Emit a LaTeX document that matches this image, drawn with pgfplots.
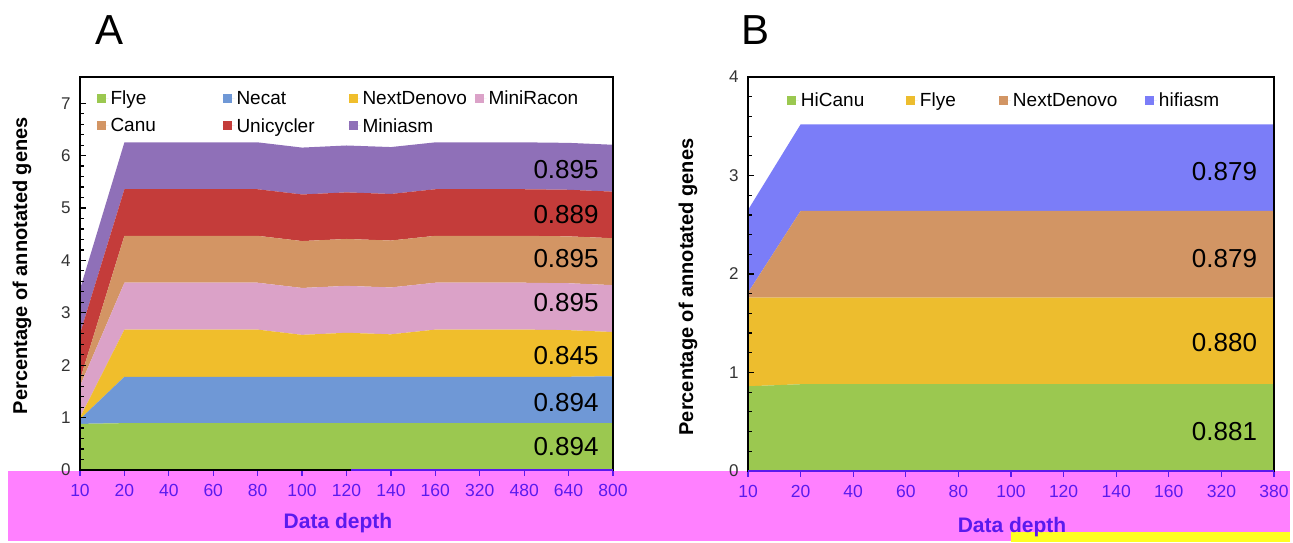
\documentclass[border=0pt]{standalone}
\usepackage{fontspec}
\setmainfont{Liberation Sans}
\usepackage{pgfplots}
\pgfplotsset{compat=1.18}
\usepackage{pgfplotstable}

\definecolor{cGreen}{HTML}{9BC850}
\definecolor{cNecat}{HTML}{6F98D6}
\definecolor{cYellow}{HTML}{F0BE2C}
\definecolor{cPink}{HTML}{DBA2C8}
\definecolor{cCanu}{HTML}{D39564}
\definecolor{cRed}{HTML}{C43C3A}
\definecolor{cPurple}{HTML}{8F70B8}
\definecolor{bYellow}{HTML}{EDBD2E}
\definecolor{bOrange}{HTML}{D29564}
\definecolor{bBlue}{HTML}{7B7DF8}
\definecolor{bandpink}{HTML}{FF80FF}
\definecolor{bandyellow}{HTML}{FFFF22}
\definecolor{tickblue}{HTML}{5A1AEE}

\pgfplotstableread{
x Flye Necat NextDenovo MiniRacon Canu Unicycler Miniasm
0  0.88  0.09  0.03 0.60  0.12  0.88  0.85
1  0.894 0.885 0.90 0.895 0.895 0.889 0.895
2  0.894 0.885 0.90 0.895 0.895 0.889 0.895
3  0.894 0.885 0.90 0.895 0.895 0.889 0.895
4  0.894 0.885 0.90 0.895 0.895 0.889 0.895
5  0.894 0.885 0.80 0.895 0.895 0.889 0.895
6  0.894 0.885 0.84 0.895 0.895 0.889 0.895
7  0.894 0.885 0.81 0.895 0.895 0.889 0.895
8  0.894 0.885 0.90 0.895 0.895 0.889 0.895
9  0.894 0.885 0.90 0.895 0.895 0.889 0.895
10 0.894 0.885 0.90 0.895 0.895 0.889 0.895
11 0.894 0.885 0.89 0.895 0.895 0.889 0.895
12 0.894 0.894 0.845 0.895 0.895 0.889 0.895
}\tabA

\pgfplotstableread{
x HiCanu Flye NextDenovo hifiasm
0  0.86  0.90  0.05  0.84
1  0.881 0.880 0.879 0.879
2  0.881 0.880 0.879 0.879
3  0.881 0.880 0.879 0.879
4  0.881 0.880 0.879 0.879
5  0.881 0.880 0.879 0.879
6  0.881 0.880 0.879 0.879
7  0.881 0.880 0.879 0.879
8  0.881 0.880 0.879 0.879
9  0.881 0.880 0.879 0.879
10 0.881 0.880 0.879 0.879
}\tabB

\pgfplotsset{
  panel/.style={
    scale only axis,
    anchor=south west,
    axis on top=true,
    axis line style={line width=1.3pt, black},
    tick align=inside,
    xtick pos=bottom, ytick pos=left,
    major tick length=6pt, minor tick length=4pt,
    ytick style={line width=1.2pt, black},
    xtick style={line width=1.2pt, tickblue, yshift=-6pt},
    minor y tick num=4,
    /pgf/number format/assume math mode=true,
    yticklabel style={font=\fontsize{17}{20}\selectfont, text=black!80, xshift=-6pt},
    xticklabel style={font=\fontsize{17.5}{20}\selectfont, text=tickblue, yshift=-11pt},
    legend cell align=left,
    legend image code/.code={\fill[##1] (0pt,-4.5pt) rectangle (9pt,4.5pt); \path (0pt,0pt) -- (12pt,0pt);},
    stack plots=y,
    xtick={0,...,12},
    xmin=0, ymin=0,
  },
}
\tikzset{lab/.style={font=\fontsize{26}{28}\selectfont, anchor=east, inner sep=0pt}}

\begin{document}
\begin{tikzpicture}
\useasboundingbox (0pt,0pt) rectangle (1293pt,543pt);
\fill[bandpink] (8pt,2pt) rectangle (1290pt,72pt);
\fill[bandyellow] (1011pt,1pt) rectangle (1290pt,11pt);

\node[font=\fontsize{42}{44}\selectfont] at (110pt,513pt) {A};
\node[font=\fontsize{42}{44}\selectfont] at (755pt,513pt) {B};

% Panel A
\begin{axis}[panel,
  at={(80pt,73pt)}, width=533pt, height=393pt,
  xmax=12, ymax=7.5, ytick={0,...,7},
  xticklabels={10,20,40,60,80,100,120,140,160,320,480,640,800},
  xlabel={Data depth}, ylabel={Percentage of annotated genes},
  every axis x label/.style={at={(axis description cs:0.484,-0.135)}, anchor=center,
    font=\fontsize{21}{24}\selectfont\bfseries, text=tickblue},
  every axis y label/.style={at={(axis description cs:-0.109,0.52)}, rotate=90, anchor=center,
    font=\fontsize{20}{24}\selectfont\bfseries},
  legend columns=4,
  legend style={draw=none, fill=none, at={(0.025,0.975)}, anchor=north west,
    font=\fontsize{19}{22}\selectfont, row sep=8pt,
    /tikz/every even column/.append style={column sep=0pt}},
]
\addplot[fill=cGreen, draw=none] table[x=x,y=Flye]{\tabA} \closedcycle;
\addlegendentry{\makebox[110pt][l]{Flye}}
\addplot[fill=cNecat, draw=none] table[x=x,y=Necat]{\tabA} \closedcycle;
\addlegendentry{\makebox[110pt][l]{Necat}}
\addplot[fill=cYellow, draw=none] table[x=x,y=NextDenovo]{\tabA} \closedcycle;
\addlegendentry{\makebox[110pt][l]{NextDenovo}}
\addplot[fill=cPink, draw=none] table[x=x,y=MiniRacon]{\tabA} \closedcycle;
\addlegendentry{\makebox[90pt][l]{MiniRacon}}
\addplot[fill=cCanu, draw=none] table[x=x,y=Canu]{\tabA} \closedcycle;
\addlegendentry{\makebox[110pt][l]{Canu}}
\addplot[fill=cRed, draw=none] table[x=x,y=Unicycler]{\tabA} \closedcycle;
\addlegendentry{\makebox[110pt][l]{Unicycler}}
\addplot[fill=cPurple, draw=none] table[x=x,y=Miniasm]{\tabA} \closedcycle;
\addlegendentry{\makebox[110pt][l]{Miniasm}}
\coordinate (LA1) at (axis cs:11.68,5.73);
\coordinate (LA2) at (axis cs:11.68,4.88);
\coordinate (LA3) at (axis cs:11.68,4.04);
\coordinate (LA4) at (axis cs:11.68,3.20);
\coordinate (LA5) at (axis cs:11.68,2.19);
\coordinate (LA6) at (axis cs:11.68,1.28);
\coordinate (LA7) at (axis cs:11.68,0.44);
\coordinate (A1) at (axis cs:6.1,0);
\coordinate (A2) at (axis cs:12,0);
\end{axis}
\draw[tickblue, line width=1.3pt] (A1) -- (A2);
\node[lab] at (LA1) {0.895};
\node[lab] at (LA2) {0.889};
\node[lab] at (LA3) {0.895};
\node[lab] at (LA4) {0.895};
\node[lab] at (LA5) {0.845};
\node[lab] at (LA6) {0.894};
\node[lab] at (LA7) {0.894};

% Panel B
\begin{axis}[panel,
  at={(748pt,72pt)}, width=526pt, height=394pt,
  xmax=10, ymax=4, ytick={0,...,4}, xtick={0,...,10},
  xticklabels={10,20,40,60,80,100,120,140,160,320,380},
  xlabel={Data depth}, ylabel={Percentage of annotated genes},
  every axis x label/.style={at={(axis description cs:0.502,-0.142)}, anchor=center,
    font=\fontsize{21}{24}\selectfont\bfseries, text=tickblue},
  every axis y label/.style={at={(axis description cs:-0.114,0.467)}, rotate=90, anchor=center,
    font=\fontsize{20}{24}\selectfont\bfseries},
  legend columns=4,
  legend style={draw=none, fill=none, at={(0.068,0.97)}, anchor=north west,
    font=\fontsize{19}{22}\selectfont,
    /tikz/every even column/.append style={column sep=0pt}},
]
\addplot[fill=cGreen, draw=none] table[x=x,y=HiCanu]{\tabB} \closedcycle;
\addlegendentry{\makebox[103pt][l]{HiCanu}}
\addplot[fill=bYellow, draw=none] table[x=x,y=Flye]{\tabB} \closedcycle;
\addlegendentry{\makebox[77pt][l]{Flye}}
\addplot[fill=bOrange, draw=none] table[x=x,y=NextDenovo]{\tabB} \closedcycle;
\addlegendentry{\makebox[130pt][l]{NextDenovo}}
\addplot[fill=bBlue, draw=none] table[x=x,y=hifiasm]{\tabB} \closedcycle;
\addlegendentry{\makebox[80pt][l]{hifiasm}}
\coordinate (LB1) at (axis cs:9.68,3.04);
\coordinate (LB2) at (axis cs:9.68,2.16);
\coordinate (LB3) at (axis cs:9.68,1.30);
\coordinate (LB4) at (axis cs:9.68,0.40);
\coordinate (B1) at (axis cs:0,0);
\coordinate (B2) at (axis cs:10,0);
\end{axis}
\draw[tickblue, line width=1.3pt] (B1) -- (B2);
\node[lab] at (LB1) {0.879};
\node[lab] at (LB2) {0.879};
\node[lab] at (LB3) {0.880};
\node[lab] at (LB4) {0.881};
\end{tikzpicture}
\end{document}
